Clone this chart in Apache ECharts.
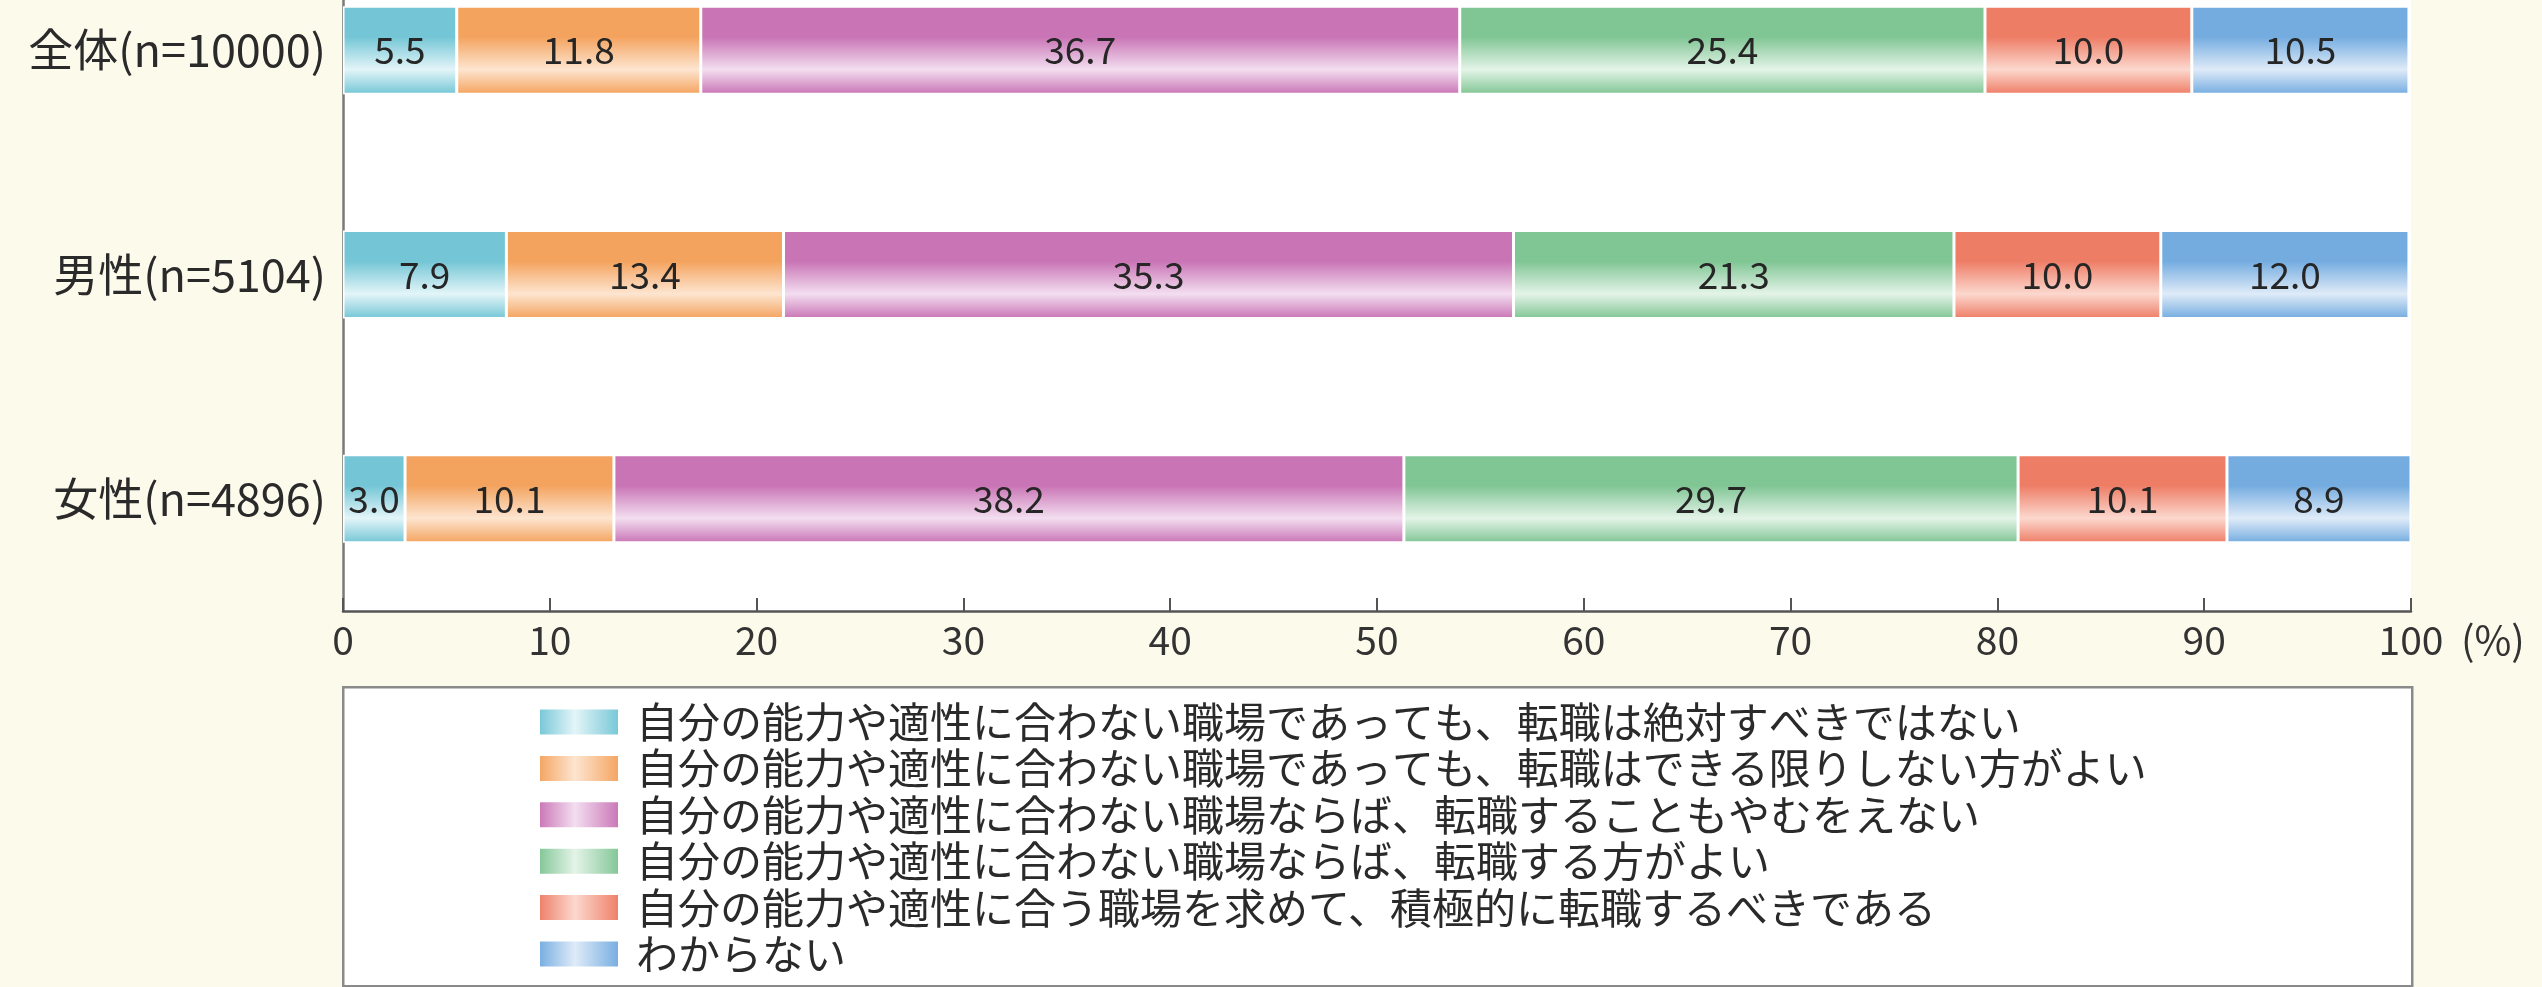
<!DOCTYPE html>
<html>
<head>
<meta charset="utf-8">
<script src="https://cdn.jsdelivr.net/npm/echarts@6/dist/echarts.min.js"></script>
<style>
html,body{margin:0;padding:0;background:#fcfaeb;}
#chart{width:2542px;height:987px;}
</style>
</head>
<body>
<div id="chart"></div>
<script>
var categories = ['全体(n=10000)', '男性(n=5104)', '女性(n=4896)'];
var seriesNames = [
  '自分の能力や適性に合わない職場であっても、転職は絶対すべきではない',
  '自分の能力や適性に合わない職場であっても、転職はできる限りしない方がよい',
  '自分の能力や適性に合わない職場ならば、転職することもやむをえない',
  '自分の能力や適性に合わない職場ならば、転職する方がよい',
  '自分の能力や適性に合う職場を求めて、積極的に転職するべきである',
  'わからない'
];
var absolutelyNot = [5.5, 7.9, 3.0];
var asLittleAsPossible = [11.8, 13.4, 10.1];
var unavoidable = [36.7, 35.3, 38.2];
var better = [25.4, 21.3, 29.7];
var actively = [10.0, 10.0, 10.1];
var dontKnow = [10.5, 12.0, 8.9];
var xTicks = [0, 10, 20, 30, 40, 50, 60, 70, 80, 90, 100];

var seriesValues = [absolutelyNot, asLittleAsPossible, unavoidable, better, actively, dontKnow];
var palette = [
  {dark: '#74c6d6', light: '#e3f5f8'},
  {dark: '#f4a35e', light: '#fde5d0'},
  {dark: '#c974b5', light: '#f3def0'},
  {dark: '#80c594', light: '#e4f4e8'},
  {dark: '#ee7d66', light: '#fcd8ce'},
  {dark: '#74ace0', light: '#dfebf8'}
];

function vGrad(p) {
  return {type: 'linear', x: 0, y: 0, x2: 0, y2: 1, colorStops: [
    {offset: 0, color: p.dark},
    {offset: 0.35, color: p.dark},
    {offset: 0.72, color: p.light},
    {offset: 1, color: p.dark}
  ]};
}
function hGrad(p) {
  return {type: 'linear', x: 0, y: 0, x2: 1, y2: 0, colorStops: [
    {offset: 0, color: p.dark},
    {offset: 0.45, color: p.light},
    {offset: 1, color: p.dark}
  ]};
}

var FONT = '"Noto Sans CJK JP", "Noto Sans", sans-serif';

var series = seriesNames.map(function (name, i) {
  return {
    name: name,
    type: 'bar',
    stack: 'total',
    barWidth: 88,
    data: seriesValues[i],
    itemStyle: {color: vGrad(palette[i]), borderColor: '#ffffff', borderWidth: 1.5},
    label: {
      show: true,
      position: 'inside',
      fontFamily: FONT,
      fontSize: 37,
      color: '#262626',
      formatter: function (p) { return p.value.toFixed(1); }
    },
    emphasis: {disabled: true}
  };
});

var chart = echarts.init(document.getElementById('chart'), null, {renderer: 'canvas'});
chart.setOption({
  backgroundColor: '#fcfaeb',
  animation: false,
  textStyle: {fontFamily: FONT},
  graphic: [{
    type: 'rect',
    left: 342, top: 686,
    shape: {width: 2069, height: 299},
    style: {fill: '#ffffff', stroke: '#8a8a8a', lineWidth: 2.5},
    z: 0
  }],
  grid: {
    left: 343, right: 131, top: -62, bottom: 376,
    outerBoundsMode: 'none',
    containLabel: false,
    show: true, backgroundColor: '#ffffff', borderWidth: 0
  },
  legend: {
    orient: 'vertical',
    left: 538, top: 700,
    padding: 0,
    itemWidth: 80, itemHeight: 27,
    itemGap: 2.4,
    icon: 'rect',
    selectedMode: false,
    textStyle: {fontFamily: FONT, fontSize: 42, color: '#2a2a2a', lineHeight: 44, padding: [0, 0, 0, 12]},
    data: seriesNames.map(function (n, i) {
      return {name: n, itemStyle: {color: hGrad(palette[i])}};
    }),
    z: 5
  },
  xAxis: {
    type: 'value',
    min: 0, max: 100, interval: 10,
    name: '(%)',
    nameLocation: 'end',
    nameGap: 50,
    nameTextStyle: {fontFamily: FONT, fontSize: 40, color: '#333', verticalAlign: 'top', padding: [9, 0, 0, 0]},
    axisLine: {show: true, lineStyle: {color: '#555', width: 2.5}},
    axisTick: {show: true, inside: true, length: 13, lineStyle: {color: '#555', width: 2}},
    axisLabel: {
      fontFamily: FONT, fontSize: 39, color: '#333', margin: 10,
      formatter: function (v) { return xTicks.indexOf(v) >= 0 ? String(v) : ''; }
    },
    splitLine: {show: false}
  },
  yAxis: {
    type: 'category',
    inverse: true,
    data: categories,
    axisLine: {show: true, lineStyle: {color: '#7a7a7a', width: 2.5}},
    axisTick: {show: false},
    axisLabel: {fontFamily: FONT, fontSize: 45, color: '#2a2a2a', margin: 17}
  },
  series: series
});
</script>
</body>
</html>
